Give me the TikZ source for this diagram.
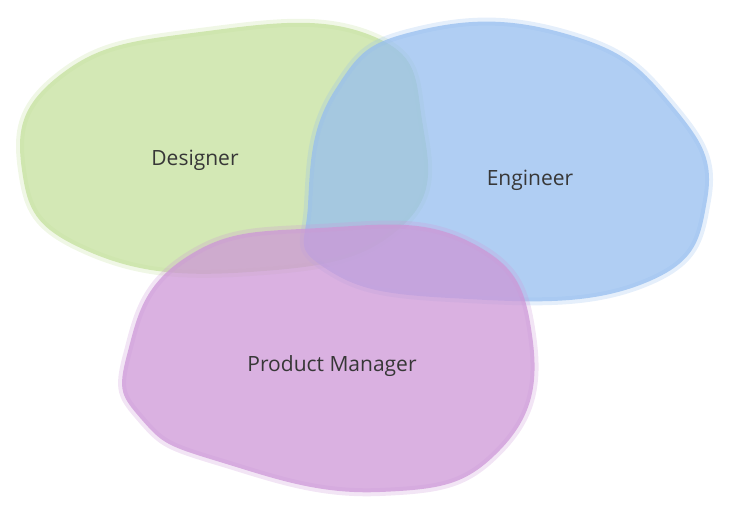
\documentclass[tikz,border=0pt]{standalone}
\usepackage{fontspec}
\setmainfont{Open Sans}
\definecolor{designgreen}{RGB}{196,224,156}
\definecolor{engblue}{RGB}{150,190,239}
\definecolor{pmpurple}{RGB}{205,151,215}
\definecolor{labelgray}{RGB}{55,55,55}
\tikzset{
  blob/.style={fill=#1, fill opacity=0.75, draw=#1, draw opacity=0.25, line width=8pt, line join=round},
  rolelabel/.style={text=labelgray, font=\fontsize{21}{24}\selectfont}
}
\begin{document}
\begin{tikzpicture}[x=1pt,y=-1pt]
  \useasboundingbox (0,0) rectangle (729,519);
  % Blobs
  \fill[blob=designgreen] plot[smooth cycle, tension=0.8] coordinates
    {(22,170) (60,75) (200,32) (370,35) (422,120) (400,228) (250,272) (85,250)};
  \fill[blob=engblue] plot[smooth cycle, tension=0.8] coordinates
    {(308,205) (335,90) (420,30) (570,35) (672,105) (707,200) (640,285) (450,298) (325,268)};
  \fill[blob=pmpurple] plot[smooth cycle, tension=0.8] coordinates
    {(127,355) (185,258) (320,228) (470,242) (532,335) (500,450) (380,492) (220,462) (142,420)};
  % Labels
  \node[rolelabel] (designer) at (195,160) {Designer};
  \node[rolelabel] (engineer) at (530,180) {Engineer};
  \node[rolelabel] (pm) at (332,366) {Product Manager};
\end{tikzpicture}
\end{document}
